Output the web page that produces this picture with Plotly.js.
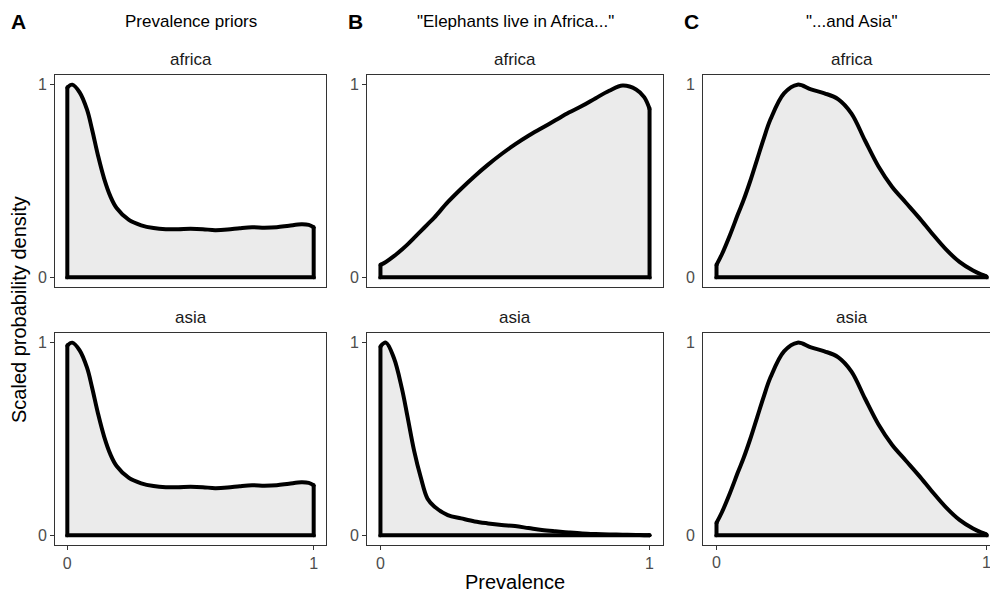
<!DOCTYPE html>
<html>
<head>
<meta charset="utf-8">
<script src="https://cdn.plot.ly/plotly-3.0.1.min.js"></script>
<style>html,body{margin:0;padding:0;background:#fff;}#chart{width:990px;height:594px;}</style>
</head>
<body>
<div id="chart"></div>
<script>
// ---- data ----
const prevalence = [0, 0.02, 0.05, 0.08, 0.1, 0.125, 0.15, 0.175, 0.2, 0.25, 0.3, 0.35, 0.4, 0.45, 0.5, 0.55, 0.6, 0.65, 0.7, 0.75, 0.8, 0.85, 0.9, 0.95, 0.98, 1];

const priorAfrica = [0.985, 1.0, 0.96, 0.87, 0.77, 0.63, 0.51, 0.42, 0.36, 0.298, 0.27, 0.256, 0.25, 0.25, 0.252, 0.25, 0.245, 0.248, 0.255, 0.26, 0.258, 0.26, 0.268, 0.275, 0.272, 0.26];
const priorAsia   = [0.985, 1.0, 0.96, 0.87, 0.77, 0.63, 0.51, 0.42, 0.36, 0.298, 0.27, 0.256, 0.25, 0.25, 0.252, 0.25, 0.245, 0.248, 0.255, 0.26, 0.258, 0.26, 0.268, 0.275, 0.272, 0.26];

const africaOnlyAfrica = [0.065, 0.08, 0.11, 0.145, 0.17, 0.205, 0.24, 0.275, 0.31, 0.39, 0.46, 0.525, 0.585, 0.64, 0.69, 0.735, 0.775, 0.815, 0.855, 0.89, 0.93, 0.968, 0.995, 0.975, 0.935, 0.875];
const africaOnlyAsia   = [0.98, 1.0, 0.92, 0.76, 0.62, 0.44, 0.30, 0.19, 0.15, 0.105, 0.088, 0.072, 0.062, 0.054, 0.048, 0.038, 0.028, 0.021, 0.015, 0.01, 0.007, 0.005, 0.003, 0.002, 0.001, 0.001];

const bothAfrica = [0.065, 0.12, 0.22, 0.33, 0.40, 0.50, 0.61, 0.72, 0.82, 0.955, 1.0, 0.975, 0.955, 0.925, 0.85, 0.71, 0.575, 0.47, 0.39, 0.31, 0.225, 0.145, 0.08, 0.035, 0.015, 0.005];
const bothAsia   = [0.065, 0.12, 0.22, 0.33, 0.40, 0.50, 0.61, 0.72, 0.82, 0.955, 1.0, 0.975, 0.955, 0.925, 0.85, 0.71, 0.575, 0.47, 0.39, 0.31, 0.225, 0.145, 0.08, 0.035, 0.015, 0.005];

const panelLetters = ["A", "B", "C"];
const panelTitles = ["Prevalence priors", "\"Elephants live in Africa...\"", "\"...and Asia\""];
const stripLabels = ["africa", "asia"];
const tickVals = [0, 1];
const tickText = ["0", "1"];
const xTitle = "Prevalence";
const yTitle = "Scaled probability density";

const series = [
  [priorAfrica, priorAsia],
  [africaOnlyAfrica, africaOnlyAsia],
  [bothAfrica, bothAsia]
];

// ---- layout geometry (pixels) ----
const W = 990, H = 594;
const colPx = [[55, 326], [367, 663], [703, 990]];
const xRanges = [[-0.05, 1.05], [-0.05, 1.05], [-0.05, -0.05 + (990 - 703) / 270]];
const rowPx = [[75, 287], [333, 545]];
const px = v => v / W, py = v => 1 - v / H;

const FONT = "Liberation Sans, Arial, sans-serif";
const TICKFONT = {family: FONT, size: 16, color: "#4D4D4D"};
const traces = [];
const layout = {
  width: W, height: H,
  margin: {l: 0, r: 0, t: 0, b: 0},
  paper_bgcolor: "#fff", plot_bgcolor: "#fff",
  showlegend: false,
  font: {family: FONT, color: "#000"},
  annotations: []
};

let n = 0;
for (let c = 0; c < 3; c++) {
  for (let r = 0; r < 2; r++) {
    n++;
    const xa = n === 1 ? "xaxis" : "xaxis" + n;
    const ya = n === 1 ? "yaxis" : "yaxis" + n;
    const xr = n === 1 ? "x" : "x" + n;
    const yr = n === 1 ? "y" : "y" + n;
    const ys = series[c][r];
    const last = prevalence.length - 1;
    // fill area under the smoothed density
    traces.push({
      type: "scatter", mode: "lines", x: prevalence, y: ys,
      xaxis: xr, yaxis: yr, fill: "tozeroy", fillcolor: "#EBEBEB",
      line: {color: "rgba(0,0,0,0)", width: 0, shape: "spline", smoothing: 1}, hoverinfo: "skip"
    });
    // baseline + vertical edges (markers emulate round line joins)
    traces.push({
      type: "scatter", mode: "lines+markers",
      x: [prevalence[last], prevalence[last], prevalence[0], prevalence[0]],
      y: [ys[last], 0, 0, ys[0]],
      xaxis: xr, yaxis: yr,
      line: {color: "#000", width: 4},
      marker: {color: "#000", size: 4, line: {width: 0}}, hoverinfo: "skip"
    });
    // density outline
    traces.push({
      type: "scatter", mode: "lines", x: prevalence, y: ys,
      xaxis: xr, yaxis: yr,
      line: {color: "#000", width: 4, shape: "spline", smoothing: 1}, hoverinfo: "skip"
    });
    layout[xa] = {
      domain: [px(colPx[c][0]), px(colPx[c][1])],
      range: xRanges[c], anchor: yr, fixedrange: true,
      showgrid: false, zeroline: false,
      showline: true, mirror: true, linecolor: "#333333", linewidth: 1,
      tickmode: "array", tickvals: tickVals, ticktext: tickText,
      ticks: r === 1 ? "outside" : "", ticklen: 4, tickcolor: "#333333", tickwidth: 1,
      showticklabels: r === 1 && c < 2,
      tickfont: TICKFONT
    };
    layout[ya] = {
      domain: [py(rowPx[r][1]), py(rowPx[r][0])],
      range: [-0.05, 1.05], anchor: xr, fixedrange: true,
      showgrid: false, zeroline: false,
      showline: true, mirror: c < 2, linecolor: "#333333", linewidth: 1,
      tickmode: "array", tickvals: tickVals, ticktext: tickText,
      ticks: "outside", ticklen: 4, tickwidth: 1,
      tickcolor: c < 2 ? "#333333" : "rgba(0,0,0,0)",
      tickfont: TICKFONT
    };
    // panel C bottom tick labels (placed via the axis scale so the edge label is not dropped)
    if (c === 2 && r === 1) {
      tickVals.forEach((v, i) => {
        layout.annotations.push({
          xref: xr, yref: "paper", x: v, y: py(562),
          xanchor: "center", yanchor: "middle", showarrow: false,
          text: tickText[i], font: TICKFONT
        });
      });
    }
    // strip label
    const cx = c < 2 ? (colPx[c][0] + colPx[c][1]) / 2 : (703 + 1000) / 2;
    layout.annotations.push({
      xref: "paper", yref: "paper", x: px(cx), y: py(rowPx[r][0] - 16),
      xanchor: "center", yanchor: "middle", showarrow: false,
      text: stripLabels[r], font: {family: FONT, size: 17, color: "#1A1A1A"}
    });
  }
}

const letterX = [18, 355, 691];
const titleX = [190.5, 515, 851];
for (let c = 0; c < 3; c++) {
  layout.annotations.push({
    xref: "paper", yref: "paper", x: px(letterX[c]), y: py(22),
    xanchor: "center", yanchor: "middle", showarrow: false,
    text: "<b>" + panelLetters[c] + "</b>", font: {family: FONT, size: 21, color: "#000"}
  });
  layout.annotations.push({
    xref: "paper", yref: "paper", x: px(titleX[c]), y: py(21),
    xanchor: "center", yanchor: "middle", showarrow: false,
    text: panelTitles[c], font: {family: FONT, size: 17, color: "#000"}
  });
}
layout.annotations.push({
  xref: "paper", yref: "paper", x: px(515), y: py(582),
  xanchor: "center", yanchor: "middle", showarrow: false,
  text: xTitle, font: {family: FONT, size: 20, color: "#000"}
});
layout.annotations.push({
  xref: "paper", yref: "paper", x: px(19), y: py(310),
  xanchor: "center", yanchor: "middle", showarrow: false, textangle: -90,
  text: yTitle, font: {family: FONT, size: 20, color: "#000"}
});

Plotly.newPlot("chart", traces, layout, {staticPlot: true, displayModeBar: false});
</script>
</body>
</html>
